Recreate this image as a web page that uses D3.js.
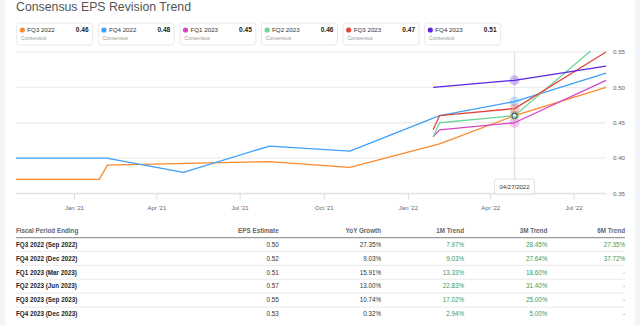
<!DOCTYPE html>
<html><head><meta charset="utf-8">
<script src="https://cdn.jsdelivr.net/npm/d3@7"></script>
<style>
html,body{margin:0;padding:0;background:#fff;}
svg{display:block;font-family:"Liberation Sans",Arial,sans-serif;}
</style></head>
<body><svg id="c" width="640" height="325"></svg>
<script>
// ---------- data ----------
const seriesNames = ["FQ3 2022","FQ4 2022","FQ1 2023","FQ2 2023","FQ3 2023","FQ4 2023"];
const seriesColors = ["#fb8a2e","#3ea0f8","#d945c8","#6fd49a","#e0473b","#5a24e2"];
const legendValues = ["0.46","0.48","0.45","0.46","0.47","0.51"];

const fq3_2022_dates  = ["2020-10-29","2021-01-28","2021-02-06","2021-08-02","2021-10-29","2022-02-04","2022-04-27","2022-08-05"];
const fq3_2022_values = [0.37,0.37,0.39,0.395,0.387,0.42,0.46,0.50];
const fq4_2022_dates  = ["2020-10-29","2021-02-05","2021-04-30","2021-08-02","2021-10-29","2022-02-04","2022-04-27","2022-08-05"];
const fq4_2022_values = [0.40,0.40,0.38,0.417,0.41,0.46,0.48,0.52];
const fq1_2023_dates  = ["2022-01-28","2022-02-04","2022-04-27","2022-08-05"];
const fq1_2023_values = [0.43,0.44,0.45,0.51];
const fq2_2023_dates  = ["2022-01-28","2022-02-04","2022-04-27","2022-08-05"];
const fq2_2023_values = [0.43,0.45,0.46,0.57];
const fq3_2023_dates  = ["2022-01-28","2022-02-04","2022-04-27","2022-08-05"];
const fq3_2023_values = [0.44,0.46,0.47,0.55];
const fq4_2023_dates  = ["2022-01-28","2022-04-27","2022-08-05"];
const fq4_2023_values = [0.50,0.51,0.53];

const xTickDates  = ["2021-01-01","2021-04-01","2021-07-01","2021-10-01","2022-01-01","2022-04-01","2022-07-01"];
const xTickLabels = ["Jan '21","Apr '21","Jul '21","Oct '21","Jan '22","Apr '22","Jul '22"];
const yTicks = [0.35,0.40,0.45,0.50,0.55];
const hoverDate = "2022-04-27";
const hoverLabel = "04/27/2022";

const tableHeaders = ["Fiscal Period Ending","EPS Estimate","YoY Growth","1M Trend","3M Trend","6M Trend"];
const tablePeriods = ["FQ3 2022 (Sep 2022)","FQ4 2022 (Dec 2022)","FQ1 2023 (Mar 2023)","FQ2 2023 (Jun 2023)","FQ3 2023 (Sep 2023)","FQ4 2023 (Dec 2023)"];
const tableEps     = ["0.50","0.52","0.51","0.57","0.55","0.53"];
const tableYoY     = ["27.35%","9.03%","15.91%","13.00%","10.74%","0.32%"];
const table1M      = ["7.97%","9.03%","13.33%","22.83%","17.02%","2.94%"];
const table3M      = ["28.45%","27.64%","18.60%","31.40%","25.00%","5.00%"];
const table6M      = ["27.35%","37.72%","-","-","-","-"];

// ---------- build ----------
const parse = d3.timeParse("%Y-%m-%d");
const allDates = [fq3_2022_dates,fq4_2022_dates,fq1_2023_dates,fq2_2023_dates,fq3_2023_dates,fq4_2023_dates];
const allValues = [fq3_2022_values,fq4_2022_values,fq1_2023_values,fq2_2023_values,fq3_2023_values,fq4_2023_values];
const series = allDates.map((ds,i)=>ds.map((d,j)=>({date:parse(d),value:allValues[i][j]})));

const svg = d3.select("#c");
svg.append("rect").attr("width",640).attr("height",325).attr("fill","#f3f4f6");
svg.append("rect").attr("x",5).attr("width",630).attr("height",325).attr("fill","#fff");

const x = d3.scaleTime().domain([parse("2020-10-29"),parse("2022-08-05")]).range([16,606]);
const y = d3.scaleLinear().domain([0.35,0.55]).range([193.5,52]);

// title
svg.append("text").attr("x",16).attr("y",11).attr("font-size",12.3).attr("fill","#555").text("Consensus EPS Revision Trend");

// legend cards
const cardW = 76, cardStep = 81.6;
seriesNames.forEach((n,i)=>{
  const g = svg.append("g").attr("transform",`translate(${16.7+i*cardStep},23)`);
  g.append("rect").attr("width",cardW).attr("height",22).attr("rx",3).attr("fill","#fff").attr("stroke","#e2e2e2").attr("stroke-width",0.8);
  g.append("circle").attr("cx",5.6).attr("cy",7).attr("r",2.6).attr("fill",seriesColors[i]);
  g.append("text").attr("x",10.6).attr("y",9.3).attr("font-size",6.2).attr("fill","#333").text(n);
  g.append("text").attr("x",cardW-4).attr("y",9.3).attr("text-anchor","end").attr("font-size",6.6).attr("font-weight","bold").attr("fill","#222").text(legendValues[i]);
  g.append("text").attr("x",4.3).attr("y",16.5).attr("font-size",5.1).attr("fill","#999").text("Consensus");
});

// grid
svg.append("g").selectAll("line").data(yTicks).join("line")
  .attr("x1",16).attr("x2",606).attr("y1",d=>y(d)).attr("y2",d=>y(d))
  .attr("stroke",(d,i)=>i===0?"#e2e2e2":"#eeeeee").attr("stroke-width",1.4);

// y labels
svg.append("g").selectAll("text").data(yTicks).join("text")
  .attr("x",613).attr("y",d=>y(d)+2.2).attr("font-size",6.2).attr("fill","#666").text(d=>d.toFixed(2));

// x ticks
const xt = xTickDates.map(parse);
svg.append("g").selectAll("line").data(xt).join("line")
  .attr("x1",d=>x(d)).attr("x2",d=>x(d)).attr("y1",193.5).attr("y2",199.5).attr("stroke","#dddddd").attr("stroke-width",1);
svg.append("g").selectAll("text").data(xt).join("text")
  .attr("x",d=>x(d)).attr("y",210).attr("text-anchor","middle").attr("font-size",6).attr("fill","#666").text((d,i)=>xTickLabels[i]);

// cursor line
const hx = x(parse(hoverDate));
svg.append("line").attr("x1",hx).attr("x2",hx).attr("y1",52).attr("y2",193.5).attr("stroke","#e2e2e2").attr("stroke-width",1.4);

// lines
svg.append("defs").append("clipPath").attr("id","clip").append("rect").attr("x",10).attr("y",51).attr("width",600).attr("height",150);
const line = d3.line().x(d=>x(d.date)).y(d=>y(d.value));
const lg = svg.append("g").attr("clip-path","url(#clip)");
const order = [0,1,2,3,4,5];
order.forEach(i=>{
  lg.append("path").datum(series[i]).attr("d",line).attr("fill","none")
    .attr("stroke",seriesColors[i]).attr("stroke-width",1.3).attr("stroke-linejoin","round");
});

// hover markers
const hd = parse(hoverDate);
series.forEach((s,i)=>{
  const p = s.find(d=>+d.date===+hd);
  if(!p) return;
  svg.append("circle").attr("cx",x(p.date)).attr("cy",y(p.value)).attr("r",5).attr("fill",seriesColors[i]).attr("opacity",0.3);
});
const gp = series[3].find(d=>+d.date===+hd);
svg.append("circle").attr("cx",x(gp.date)).attr("cy",y(gp.value)).attr("r",2.6).attr("fill","#cfeedd").attr("stroke","#3a5f66").attr("stroke-width",1.1);

// tooltip
const tg = svg.append("g").attr("transform",`translate(${hx-20},179)`);
tg.append("rect").attr("x",0.5).attr("y",1).attr("width",40).attr("height",15).attr("rx",2).attr("fill","#000").attr("opacity",0.06);
tg.append("rect").attr("width",40).attr("height",15).attr("rx",2).attr("fill","#fff").attr("stroke","#d8d8d8").attr("stroke-width",0.8);
tg.append("text").attr("x",20).attr("y",9.8).attr("text-anchor","middle").attr("font-size",6).attr("fill","#333").text(hoverLabel);

// table
const colRight = [null,278.7,381,464,547.3,625];
const headY = 232.8;
tableHeaders.forEach((h,i)=>{
  svg.append("text").attr("x",i===0?16:colRight[i]).attr("y",headY).attr("text-anchor",i===0?"start":"end")
    .attr("font-size",6.3).attr("font-weight","bold").attr("fill","#666").text(h);
});
svg.append("line").attr("x1",16).attr("x2",625).attr("y1",237.7).attr("y2",237.7).attr("stroke","#9a9a9a").attr("stroke-width",1.2);
const rowY = d3.range(tablePeriods.length).map(i=>244.4+i*13.95);
rowY.forEach((ry,i)=>{
  if(i>0) svg.append("line").attr("x1",16).attr("x2",625).attr("y1",ry-7).attr("y2",ry-7).attr("stroke","#e6e6e6").attr("stroke-width",0.9);
  svg.append("text").attr("x",16).attr("y",ry+2.2).attr("font-size",6.3).attr("font-weight","bold").attr("fill","#222").text(tablePeriods[i]);
  const cells = [tableEps[i],tableYoY[i],table1M[i],table3M[i],table6M[i]];
  cells.forEach((c,k)=>{
    const green = k>=2 && c!=="-";
    svg.append("text").attr("x",colRight[k+1]).attr("y",ry+2.2).attr("text-anchor","end").attr("font-size",6.3)
      .attr("fill",green?"#3a9a62":(c==="-"?"#888":"#333")).text(c);
  });
});
</script></body></html>
